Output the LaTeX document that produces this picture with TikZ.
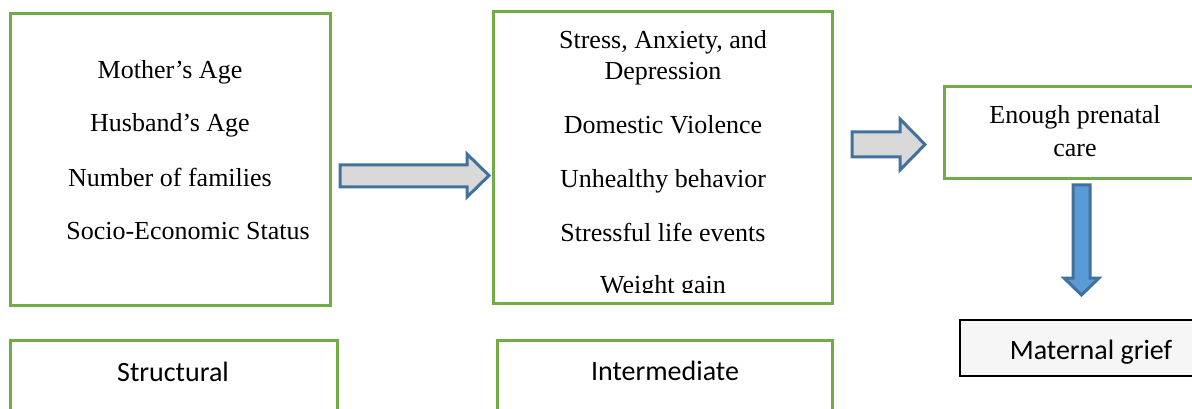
\documentclass[tikz,border=0pt]{standalone}
\usepackage{fontspec}
\setmainfont{Liberation Serif}
\newfontfamily\calibri{Carlito}
\usetikzlibrary{positioning}
\definecolor{boxgreen}{RGB}{112,173,71}
\definecolor{arrowblue}{RGB}{65,113,156}
\definecolor{fillblue}{RGB}{91,155,213}

\begin{document}
\begin{tikzpicture}[x=1pt, y=-1pt,
            box/.style={draw=boxgreen, line width=3pt, fill=white, inner sep=0pt},
            item/.style={font=\fontsize{26}{31}\selectfont, inner sep=0pt, text height=18pt, text depth=6pt},
            boxlabel/.style={font=\calibri\fontsize{28}{34}\selectfont, inner sep=0pt, text height=19pt, text depth=6pt},
            blockarrow/.style={draw=arrowblue, line width=3pt, line join=miter, fill=gray!30}
  ]

  \clip (0,0) rectangle (1192,409);

  % boxes
  \node[box, minimum width=320pt, minimum height=291pt] (structbox) at (170,159.5) {};
  \node[box, minimum width=339pt, minimum height=291pt] (interbox) at (662.5,157.5) {};
  \node[box, minimum width=256pt, minimum height=92pt] (carebox) at (1072,133) {};
  \node[box, minimum width=327pt, minimum height=80pt] (structural) at (173.5,380) {};
  \node[box, minimum width=335pt, minimum height=80pt] (intermediate) at (664.5,380) {};
  \node[draw=black, line width=1.2pt, fill=gray!7, minimum width=240pt, minimum height=56pt] (grief) at (1080,348) {};

  % structural factors
  \node[item] (mage) at (170,73) {Mother’s Age};
  \node[item] (hage) at (170,126) {Husband’s Age};
  \node[item] (families) at (170,180) {Number of families};
  \node[item] (ses) at (188,233) {Socio-Economic Status};

  % intermediate factors
  \node[item] (stress) at (663,43) {Stress, Anxiety, and};
  \node[item] (depression) at (663,74) {Depression};
  \node[item] (violence) at (663,128) {Domestic Violence};
  \node[item] (behavior) at (663,181) {Unhealthy behavior};
  \node[item] (events) at (663,235) {Stressful life events};
  \begin{scope}
    \clip (493,250) rectangle (832,292);
    \node[item] (weight) at (663,287) {Weight gain};
  \end{scope}

  \node[item] (enough) at (1075,118) {Enough prenatal};
  \node[item] (care) at (1075,151) {care};

  \node[boxlabel] (griefl) at (1091,353) {Maternal grief};
  \node[boxlabel] (structl) at (173,375) {Structural};
  \node[boxlabel] (interl) at (665,374) {Intermediate};

  % block arrows
  \draw[blockarrow] (340,165) -- (467,165) -- (467,154) -- (489,175.5) -- (467,197) -- (467,187) -- (340,187) -- cycle;
  \draw[blockarrow] (852,132) -- (900,132) -- (900,119) -- (925,144.5) -- (900,170) -- (900,157) -- (852,157) -- cycle;
  \draw[blockarrow, fill=fillblue] (1073,185) -- (1090,185) -- (1090,278) -- (1099,278) -- (1081.5,295) -- (1064,278) -- (1073,278) -- cycle;

\end{tikzpicture}
\end{document}
